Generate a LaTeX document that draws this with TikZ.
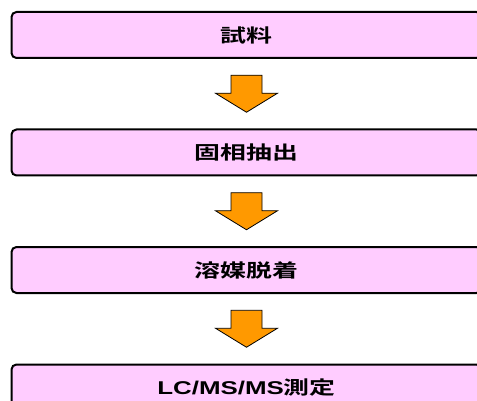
\documentclass[tikz,border=0pt]{standalone}
\usepackage{fontspec}
\newfontfamily\jpfont{Noto Sans CJK JP}[BoldFont={* Bold},FakeStretch=1.4]
\newfontfamily\latinfont{Liberation Sans}[FakeStretch=1.4]
\usetikzlibrary{positioning,calc}
\definecolor{boxpink}{HTML}{FFCCFF}
\definecolor{arroworange}{HTML}{FF9900}

\begin{document}
\begin{tikzpicture}[x=1pt,y=-1pt,
    stepbox/.style={draw,line width=2pt,rounded corners=5pt,fill=boxpink,
        minimum width=470pt,minimum height=46pt,inner sep=0pt,
        font=\fontsize{18.5}{20}\selectfont\bfseries\jpfont},
    node distance=69.5pt,
    pics/downarrow/.style={code={
        \draw[fill=arroworange,line width=0.8pt] (-15.5,-18.5) -- (15.5,-18.5) -- (15.5,-0.5)
            -- (31,-0.5) -- (0,18.5) -- (-31,-0.5) -- (-15.5,-0.5) -- cycle;}}]
    \useasboundingbox (0,0) rectangle (477,401);
    \clip (0,0) rectangle (477,401);
    \node[stepbox] (s1) at (246.5,35) {\raisebox{1pt}{試料}};
    \node[stepbox,below=of s1] (s2) {\raisebox{1pt}{固相抽出}};
    \node[stepbox,below=of s2] (s3) {\raisebox{1pt}{溶媒脱着}};
    \node[stepbox,below=of s3] (s4) {\raisebox{1pt}{{\latinfont LC/MS/MS}測定}};

    \pic at ($(s1.south)!0.5!(s2.north)$) {downarrow};
    \pic at ($(s2.south)!0.5!(s3.north)$) {downarrow};
    \pic at ($(s3.south)!0.5!(s4.north)$) {downarrow};
\end{tikzpicture}
\end{document}
